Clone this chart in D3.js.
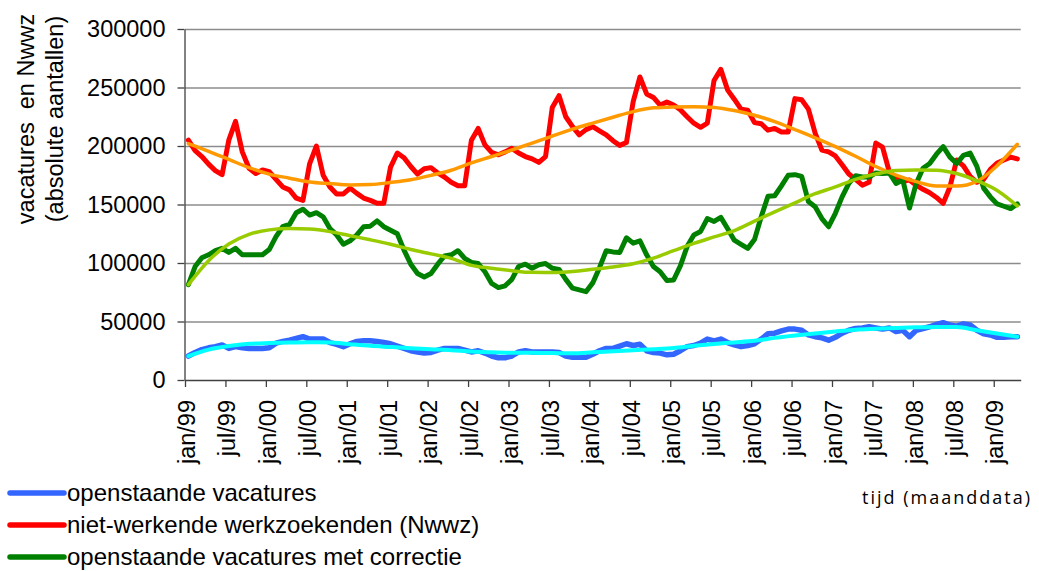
<!DOCTYPE html>
<html>
<head>
<meta charset="utf-8">
<script src="https://cdn.jsdelivr.net/npm/d3@7/dist/d3.min.js"></script>
<style>
  body { margin: 0; background: #fff; }
  svg { display: block; font-family: "Liberation Sans", Arial, sans-serif; }
  .grid line { stroke: #8c8c8c; stroke-width: 1.3; }
  .grid path { display: none; }
  .axis path, .axis line { stroke: #404040; stroke-width: 1.3; }
  .axis text { fill: #000; }
  .series { fill: none; stroke-linejoin: round; stroke-linecap: round; }
</style>
</head>
<body>
<div id="chart"></div>
<script>
// maandcijfers jan/99 t/m apr/09
const monthCount = 124;
const tickLabels = ['jan/99', 'jul/99', 'jan/00', 'jul/00', 'jan/01', 'jul/01', 'jan/02', 'jul/02',
  'jan/03', 'jul/03', 'jan/04', 'jul/04', 'jan/05', 'jul/05', 'jan/06', 'jul/06', 'jan/07', 'jul/07',
  'jan/08', 'jul/08', 'jan/09'];
const yTicks = [0, 50000, 100000, 150000, 200000, 250000, 300000];

// openstaande vacatures
const vacatures = [
  20500, 23500, 26000, 27500, 28500, 30000, 27000, 28500, 27500, 27000, 27000, 27000,
  27500, 31500, 33000, 34000, 35500, 37000, 35000, 35000, 35000, 32000, 30500, 28500,
  31000, 33000, 33500, 33500, 33000, 32000, 31000, 29000, 27000, 25000, 24000, 23000,
  23500, 25500, 27000, 27000, 27000, 25500, 24000, 25000, 23000, 20500, 19000, 19000,
  20500, 24000, 25000, 24000, 24000, 24000, 24000, 23500, 20500, 19500, 19500, 19500,
  22000, 25000, 27000, 27000, 29000, 31000, 29500, 30500, 25000, 23500, 23000, 21500,
  22000, 25000, 28500, 29500, 31500, 35000, 33500, 35000, 32000, 30000, 28500, 29500,
  31000, 35000, 39500, 40000, 42000, 43500, 43500, 42500, 38500, 37000, 36000, 34000,
  36500, 40000, 42500, 44000, 44500, 45500, 44500, 43500, 44500, 41500, 42500, 37000,
  42500, 44000, 45500, 47500, 49000, 47000, 46000, 48000, 47000, 42500, 39500, 38500,
  36500, 36500, 37000, 37000
];

// niet-werkende werkzoekenden (Nwwz)
const nwwz = [
  205000, 196000, 191000, 184500, 179000, 175500, 205000, 221000, 195000, 181000, 176500, 179500,
  178000, 171500, 165000, 162500, 155500, 153500, 185000, 200000, 175000, 165000, 159000, 159000,
  164000, 159500, 155500, 153500, 151000, 151000, 182000, 194000, 190000, 182500, 176000, 180500,
  181500, 177000, 173500, 169000, 166000, 166000, 205000, 215000, 201000, 194500, 192500, 195000,
  198000, 194000, 191000, 189000, 186000, 191000, 233000, 243000, 225000, 216500, 209500, 214000,
  216500, 213000, 209500, 204500, 200500, 203000, 238000, 259000, 244500, 241500, 235000, 237500,
  235000, 231000, 225000, 219500, 216000, 219500, 256000, 265500, 248000, 240000, 231500, 230500,
  220000, 219000, 213500, 215000, 212000, 212000, 240500, 239500, 231500, 211000, 196500, 195000,
  191500, 184000, 176000, 171500, 166500, 169000, 202500, 199000, 178000, 172500, 169500, 171000,
  166500, 163000, 160000, 156000, 151000, 165000, 188000, 183000, 174000, 169000, 171500, 180000,
  185500, 188000, 190500, 189000
];

// openstaande vacatures met correctie
const vacCorrectie = [
  81500, 97000, 104500, 107000, 110500, 112500, 109000, 112500, 107000, 107000, 107000, 107000,
  111500, 122500, 131000, 133000, 143000, 146000, 141000, 143000, 139500, 129500, 124000, 116000,
  119000, 124000, 131000, 131500, 136000, 131000, 128000, 125000, 111000, 99000, 91000, 88000,
  91000, 99000, 106000, 107000, 110500, 104000, 100500, 99500, 92500, 82500, 79000, 80500,
  86000, 97000, 99000, 95500, 98500, 99500, 95500, 94500, 86000, 78500, 77000, 75500,
  83000, 96000, 110500, 109500, 109000, 121500, 117000, 119000, 107000, 97000, 92500, 85000,
  85500, 97500, 114000, 124000, 127000, 138000, 135500, 139000, 129500, 119500, 116000, 112500,
  120000, 139500, 157000, 157500, 166000, 175000, 175500, 174000, 152500, 148000, 138000, 131000,
  142500, 156500, 168000, 174500, 173500, 173500, 177000, 176500, 177000, 168000, 171000, 147000,
  168000, 181000, 185000, 193000, 199500, 190500, 185000, 192000, 194000, 182500, 164000, 156500,
  150500, 148500, 146500, 150500
];

const trendMonths = d3.range(0, monthCount, 3);
const vacaturesTrend = [
  20500, 26000, 29000, 30900, 31600, 32000, 32200, 32100, 30600, 29200, 28200, 27200,
  26300, 25500, 24300, 23700, 23300, 23200, 23000, 22900, 23700, 24600, 25500, 26300,
  27300, 29200, 30800, 32100, 33500, 36000, 38000, 39800, 41500, 43000, 43800, 44500,
  45000, 45300, 45200, 42500, 39800, 37000
];
const nwwzTrend = [
  202000, 195500, 188500, 181500, 176000, 172500, 169300, 167900, 166700, 167000, 168800, 171100,
  174900, 179300, 185500, 191000, 196600, 202400, 208500, 214400, 219600, 224600, 229400, 232600,
  233400, 233600, 233000, 230400, 226300, 220800, 214000, 207000, 199500, 191200, 182500, 175200,
  169500, 165800, 165800, 169800, 183200, 201500
];
const correctieTrend = [
  81500, 102000, 116200, 124500, 128300, 129500, 129000, 126800, 123300, 119800, 116000, 111600,
  107800, 104000, 98000, 95500, 93400, 92000, 91900, 92700, 94600, 96600, 99300, 104100,
  110500, 116800, 122300, 127700, 135800, 143700, 151400, 159200, 165000, 171500, 176000, 179000,
  179500, 179300, 176500, 170300, 162000, 148800
];

const width = 1039;
const height = 571;
const margin = { top: 29, right: 18.3, bottom: 191, left: 185 };
const plotW = width - margin.left - margin.right;
const plotH = height - margin.top - margin.bottom;

const svg = d3.select('#chart').append('svg')
  .attr('width', width)
  .attr('height', height);

// categorie-as: maanden staan tussen de streepjes
const xEdge = d3.scaleLinear().domain([0, monthCount]).range([margin.left, margin.left + plotW]);
const xMid = j => xEdge(j + 0.5);
const y = d3.scaleLinear().domain([0, 300000]).range([margin.top + plotH, margin.top]);

// horizontale rasterlijnen
svg.append('g')
  .attr('class', 'grid')
  .attr('transform', `translate(${margin.left},0)`)
  .call(d3.axisRight(y).tickValues(yTicks.slice(1)).tickSize(plotW).tickFormat(''));

// y-as
const yAxis = svg.append('g')
  .attr('class', 'axis')
  .attr('transform', `translate(${margin.left - 0.5},0)`)
  .call(d3.axisLeft(y).tickValues(yTicks).tickSize(7).tickSizeOuter(0).tickPadding(12).tickFormat(d => String(d)));
yAxis.selectAll('text').style('font-size', '23.5px');

// x-as
const xAxis = svg.append('g')
  .attr('class', 'axis')
  .attr('transform', `translate(0,${margin.top + plotH})`)
  .call(d3.axisBottom(xEdge).tickValues(d3.range(0, 121, 6)).tickSize(7).tickSizeOuter(0)
    .tickFormat((d, i) => tickLabels[i]));
xAxis.selectAll('text')
  .style('font-size', '23.5px')
  .style('text-anchor', 'end')
  .attr('transform', 'rotate(-90)')
  .attr('x', -20)
  .attr('y', 1)
  .attr('dy', '0.35em');

// lijnen
const rawLine = d3.line().x((d, j) => xMid(j)).y(d => y(d));
const trendLine = d3.line().x((d, k) => xMid(trendMonths[k])).y(d => y(d)).curve(d3.curveMonotoneX);

const series = [
  { values: vacatures, color: '#3366FF', width: 5.5, line: rawLine },
  { values: nwwz, color: '#FF0000', width: 5, line: rawLine },
  { values: vacCorrectie, color: '#008000', width: 5, line: rawLine },
  { values: vacaturesTrend, color: '#00FFFF', width: 4, line: trendLine },
  { values: nwwzTrend, color: '#FF9900', width: 3.5, line: trendLine },
  { values: correctieTrend, color: '#99CC00', width: 3.5, line: trendLine }
];

svg.append('g').selectAll('path')
  .data(series)
  .join('path')
  .attr('class', 'series')
  .attr('d', s => s.line(s.values))
  .attr('stroke', s => s.color)
  .attr('stroke-width', s => s.width);

// titel y-as
const yTitle = svg.append('g')
  .attr('transform', 'translate(0,119) rotate(-90)')
  .style('font-size', '23.5px')
  .style('text-anchor', 'middle');
yTitle.append('text').attr('x', 0).attr('y', 34).text('vacatures  en Nwwz').style('white-space', 'pre');
yTitle.append('text').attr('x', 0).attr('y', 63).text('(absolute aantallen)');

// legenda
const legendItems = [
  { label: 'openstaande vacatures', color: '#3366FF' },
  { label: 'niet-werkende werkzoekenden (Nwwz)', color: '#FF0000' },
  { label: 'openstaande vacatures met correctie', color: '#008000' }
];
const legend = svg.append('g').attr('transform', 'translate(0,493)');
const item = legend.selectAll('g')
  .data(legendItems)
  .join('g')
  .attr('transform', (d, i) => `translate(0,${i * 32})`);
item.append('line')
  .attr('x1', 10).attr('x2', 64)
  .attr('stroke', d => d.color)
  .attr('stroke-width', 5.5)
  .attr('stroke-linecap', 'round');
item.append('text')
  .attr('x', 67)
  .attr('dy', '0.35em')
  .style('font-size', '24px')
  .text(d => d.label);

// titel x-as
svg.append('text')
  .attr('x', 862)
  .attr('y', 504)
  .style('font-family', '"Open Sans", sans-serif')
  .style('font-size', '18px')
  .style('letter-spacing', '2px')
  .text('tijd (maanddata)');
</script>
</body>
</html>
